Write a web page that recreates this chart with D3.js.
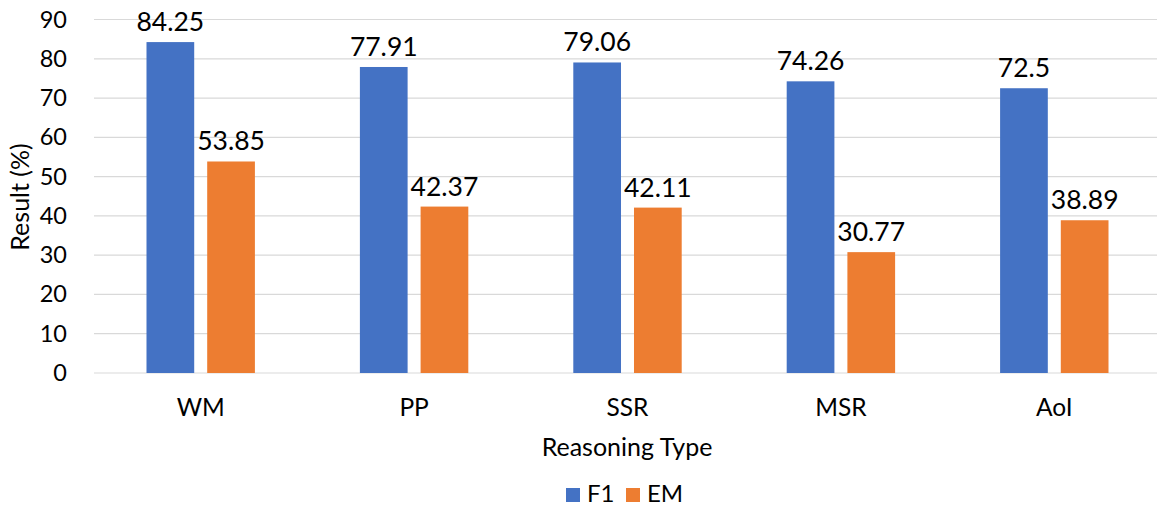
<!DOCTYPE html>
<html>
<head>
<meta charset="utf-8">
<script src="https://cdn.jsdelivr.net/npm/d3@7"></script>
<style>
  html, body { margin: 0; padding: 0; background: #fff; }
  svg { display: block; font-family: Lato, "Open Sans", sans-serif; }
</style>
</head>
<body>
<svg id="chart" width="1157" height="508"></svg>
<script>
// Reasoning types and scores per metric
const categories = ["WM", "PP", "SSR", "MSR", "AoI"];
const seriesNames = ["F1", "EM"];
const f1Values = [84.25, 77.91, 79.06, 74.26, 72.5];
const emValues = [53.85, 42.37, 42.11, 30.77, 38.89];
const yTicks = [0, 10, 20, 30, 40, 50, 60, 70, 80, 90];
const colors = { F1: "#4472C4", EM: "#ED7D31" };

const rows = categories.map((c, i) => ({ category: c, F1: f1Values[i], EM: emValues[i] }));

const svg = d3.select("#chart");
const plot = { left: 94, right: 1161, top: 19.5, bottom: 373 };

const x0 = d3.scaleBand()
  .domain(categories)
  .range([plot.left, plot.right])
  .paddingInner(0.492)
  .paddingOuter(0.246);

const x1 = d3.scaleBand()
  .domain(seriesNames)
  .range([0, x0.bandwidth()])
  .paddingInner(0.214);

const y = d3.scaleLinear().domain([0, 90]).range([plot.bottom, plot.top]);

// Horizontal gridlines
svg.append("g")
  .selectAll("line")
  .data(yTicks)
  .join("line")
  .attr("x1", plot.left)
  .attr("x2", plot.right)
  .attr("y1", d => y(d))
  .attr("y2", d => y(d))
  .attr("stroke", "#D9D9D9")
  .attr("stroke-width", 1.2);

// Y axis tick labels
const yAxis = svg.append("g")
  .attr("transform", `translate(${plot.left},0)`)
  .call(d3.axisLeft(y).tickValues(yTicks).tickSize(0).tickPadding(27));
yAxis.select(".domain").remove();
yAxis.selectAll("text")
  .attr("font-family", "Lato, sans-serif")
  .attr("font-size", 23.5)
  .attr("fill", "#000");

// Bars
const groups = svg.append("g")
  .selectAll("g")
  .data(rows)
  .join("g")
  .attr("transform", d => `translate(${x0(d.category)},0)`);

groups.selectAll("rect")
  .data(d => seriesNames.map(s => ({ key: s, value: d[s] })))
  .join("rect")
  .attr("x", d => x1(d.key))
  .attr("width", x1.bandwidth())
  .attr("y", d => y(d.value))
  .attr("height", d => y(0) - y(d.value))
  .attr("fill", d => colors[d.key]);

// Value labels
groups.selectAll("text")
  .data(d => seriesNames.map(s => ({ key: s, value: d[s] })))
  .join("text")
  .attr("x", d => x1(d.key) + x1.bandwidth() / 2)
  .attr("y", d => y(d.value) - 11)
  .attr("text-anchor", "middle")
  .attr("font-size", 26.5)
  .attr("fill", "#000")
  .text(d => d.value);

// X axis category labels
const xAxis = svg.append("g")
  .attr("transform", `translate(0,${plot.bottom})`)
  .call(d3.axisBottom(x0).tickSize(0).tickPadding(26));
xAxis.select(".domain").remove();
xAxis.selectAll("text")
  .attr("font-family", "Lato, sans-serif")
  .attr("font-size", 24.5)
  .attr("fill", "#000");

// Axis titles
svg.append("text")
  .attr("x", 627)
  .attr("y", 456)
  .attr("text-anchor", "middle")
  .attr("font-size", 25)
  .attr("fill", "#000")
  .text("Reasoning Type");

svg.append("text")
  .attr("transform", "translate(29,197) rotate(-90)")
  .attr("text-anchor", "middle")
  .attr("font-size", 25)
  .attr("fill", "#000")
  .text("Result (%)");

// Legend
const legend = svg.append("g");
const legendItems = [
  { key: "F1", x: 566 },
  { key: "EM", x: 626 }
];
legendItems.forEach(item => {
  legend.append("rect")
    .attr("x", item.x)
    .attr("y", 488)
    .attr("width", 14)
    .attr("height", 14)
    .attr("fill", colors[item.key]);
  legend.append("text")
    .attr("x", item.x + 21)
    .attr("y", 502)
    .attr("font-size", 24)
    .attr("fill", "#000")
    .text(item.key);
});
</script>
</body>
</html>
